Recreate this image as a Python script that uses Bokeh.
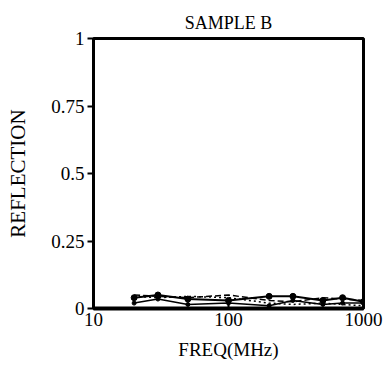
from bokeh.plotting import figure
from bokeh.models import FixedTicker, CustomJSTickFormatter
from bokeh.embed import file_html
from bokeh.resources import INLINE

freq = [20, 30, 50, 100, 200, 300, 500, 700, 1000]
s1 = [0.040, 0.050, 0.035, 0.030, 0.045, 0.045, 0.030, 0.040, 0.025]
s2 = [0.020, 0.035, 0.015, 0.020, 0.010, 0.030, 0.015, 0.020, 0.020]
s3 = [0.050, 0.045, 0.040, 0.050, 0.030, 0.025, 0.040, 0.035, 0.030]
s4 = [0.045, 0.040, 0.045, 0.040, 0.020, 0.015, 0.020, 0.015, 0.010]

x_ticks = [10, 100, 1000]
y_ticks = [0, 0.25, 0.5, 0.75, 1]
y_labels = ["0", "0.25", "0.5", "0.75", "1"]

FONT = "Liberation Serif"

p = figure(width=383, height=371, x_axis_type="log", x_range=(10, 1000), y_range=(0, 1),
           output_backend="svg", toolbar_location=None,
           min_border_left=93, min_border_right=20, min_border_top=38, min_border_bottom=63)
p.title.text = "SAMPLE B"
p.title.align = "center"
p.title.text_font = FONT
p.title.text_font_size = "18px"
p.title.text_font_style = "normal"
p.title.text_color = "black"
p.title.offset = 0
p.title.standoff = 12

p.xgrid.visible = False
p.ygrid.visible = False
p.outline_line_color = "black"
p.outline_line_width = 3

p.xaxis.ticker = FixedTicker(ticks=x_ticks, minor_ticks=[])
p.xaxis.formatter = CustomJSTickFormatter(code="return tick.toFixed(0);")
p.yaxis.ticker = FixedTicker(ticks=y_ticks, minor_ticks=[])
p.yaxis.major_label_overrides = {t: l for t, l in zip(y_ticks, y_labels)}

for ax in (p.xaxis[0], p.yaxis[0]):
    ax.axis_line_width = 3
    ax.axis_line_color = "black"
    ax.major_tick_line_color = "black"
    ax.major_tick_line_width = 2
    ax.major_tick_in = 0
    ax.major_tick_out = 6
    ax.major_label_text_font = FONT
    ax.major_label_text_font_size = "19px"
    ax.major_label_text_color = "black"
    ax.axis_label_text_font = FONT
    ax.axis_label_text_font_size = "19px"
    ax.axis_label_text_font_style = "normal"
    ax.axis_label_text_color = "black"
p.xaxis.axis_line_width = 4
p.xaxis.major_tick_out = 0
p.xaxis.major_tick_in = 5
p.xaxis.major_label_standoff = 4
p.yaxis.major_label_standoff = 3
p.xaxis.axis_label = "FREQ(MHz)"
p.yaxis.axis_label = "REFLECTION"
p.yaxis.axis_label_text_font_size = "21px"
p.xaxis.axis_label_standoff = 10
p.yaxis.axis_label_standoff = 18

p.line(freq, s1, line_color="black", line_width=2)
p.scatter(freq, s1, size=6, color="black")
p.line(freq, s2, line_color="black", line_width=1.5)
p.scatter(freq, s2, size=4, color="black")
p.line(freq, s3, line_color="black", line_width=1.5, line_dash="6 3")
p.line(freq, s4, line_color="black", line_width=1.5, line_dash="2 3")

open("out.html", "w").write(file_html(p, INLINE))
